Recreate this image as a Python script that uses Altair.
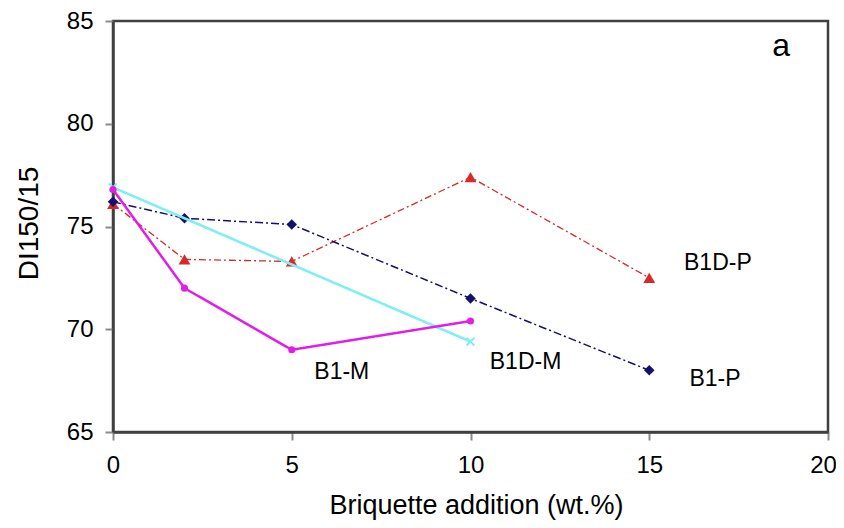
import altair as alt
import pandas as pd

# ---- data ----
series_names = ["B1D-P", "B1-P", "B1D-M", "B1-M"]
x_b1m = [0, 2, 5, 10]
y_b1m = [76.8, 72.0, 69.0, 70.4]
x_b1dm = [0, 10]
y_b1dm = [76.9, 69.4]
x_b1p = [0, 2, 5, 10, 15]
y_b1p = [76.2, 75.4, 75.1, 71.5, 68.0]
x_b1dp = [0, 2, 5, 10, 15]
y_b1dp = [76.1, 73.4, 73.3, 77.4, 72.5]

label_text = ["B1D-P", "B1-P", "B1D-M", "B1-M", "a"]
label_x = [16.92, 16.84, 11.54, 6.40, 18.69]
label_y = [73.2, 67.6, 68.4, 67.9, 83.8]

series_data = {
    "B1-M": (x_b1m, y_b1m),
    "B1D-M": (x_b1dm, y_b1dm),
    "B1-P": (x_b1p, y_b1p),
    "B1D-P": (x_b1dp, y_b1dp),
}

rows = []
for name in series_names:
    xs, ys = series_data[name]
    for xv, yv in zip(xs, ys):
        rows.append({"series": name, "x": xv, "y": yv})
df = pd.DataFrame(rows)
labels_df = pd.DataFrame({"text": label_text, "x": label_x, "y": label_y})

FONT = "Liberation Sans"

styles = {
    "B1D-P": dict(color="#d42a2a", width=1.3, dash=[7, 3, 2, 3], shape="triangle-up", size=140, filled=True),
    "B1-P": dict(color="#15106b", width=1.5, dash=[8, 3, 2, 3], shape="diamond", size=110, filled=True),
    "B1D-M": dict(color="#80eef2", width=2.6, dash=[1, 0], shape="M-1,-1L1,1M-1,1L1,-1", size=60, filled=False),
    "B1-M": dict(color="#e01ee8", width=2.5, dash=[1, 0], shape="circle", size=50, filled=True),
}

xscale = alt.Scale(domain=[0, 20], nice=False, zero=False)
yscale = alt.Scale(domain=[65, 85], nice=False, zero=False)

x_axis = alt.Axis(values=[0, 5, 10, 15, 20], title="Briquette addition (wt.%)",
                  labelPadding=13, labelFlush=False,
                  labelOffset=alt.ExprRef("datum.value == 20 ? -5 : 0"),
                  titleX=363, titleY=81, titleBaseline="alphabetic",
                  titleAnchor="start", titleAlign="center", titleFontSize=27)
y_axis = alt.Axis(values=[65, 70, 75, 80, 85], title="DI150/15",
                  labelPadding=12, labelFlush=False,
                  titleX=-84, titleY=202, titleAngle=270,
                  titleAlign="center", titleBaseline="middle")

X = alt.X("x:Q", scale=xscale, axis=x_axis)
Y = alt.Y("y:Q", scale=yscale, axis=y_axis)

layers = []
for name in series_names:
    st = styles[name]
    sub = alt.Chart(df).transform_filter(alt.datum.series == name)
    line = sub.mark_line(color=st["color"], strokeWidth=st["width"],
                         strokeDash=st["dash"]).encode(x=X, y=Y)
    if st["filled"]:
        pts = sub.mark_point(shape=st["shape"], size=st["size"], filled=True,
                             color=st["color"], opacity=1)
    else:
        pts = sub.mark_point(shape=st["shape"], size=st["size"], filled=False,
                             color=st["color"], strokeWidth=2, opacity=1)
    pts = pts.encode(x=X, y=Y)
    layers += [line, pts]

texts = alt.Chart(labels_df).mark_text(font=FONT, fontSize=23, color="black",
                                       align="center", baseline="middle").encode(
    x=X, y=Y,
    text="text:N",
    size=alt.condition(alt.datum.text == "a", alt.value(32), alt.value(23)),
)
layers.append(texts)

chart = alt.layer(*layers).properties(
    width=715, height=411,
    autosize=alt.AutoSizeParams(type="none"),
    padding={"left": 105, "top": 13, "right": 8, "bottom": 88},
    background="white",
).configure_view(
    stroke="#404040", strokeWidth=2.5
).configure_axis(
    grid=False,
    domainColor="#404040", domainWidth=2.5,
    tickColor="#8a8a8a", tickWidth=2, tickSize=8,
    labelFont=FONT, labelFontSize=24, labelColor="black",
    titleFont=FONT, titleFontSize=28, titleFontWeight="normal", titleColor="black",
)

chart.save("out.html", embed_options={"renderer": "svg", "actions": False})
